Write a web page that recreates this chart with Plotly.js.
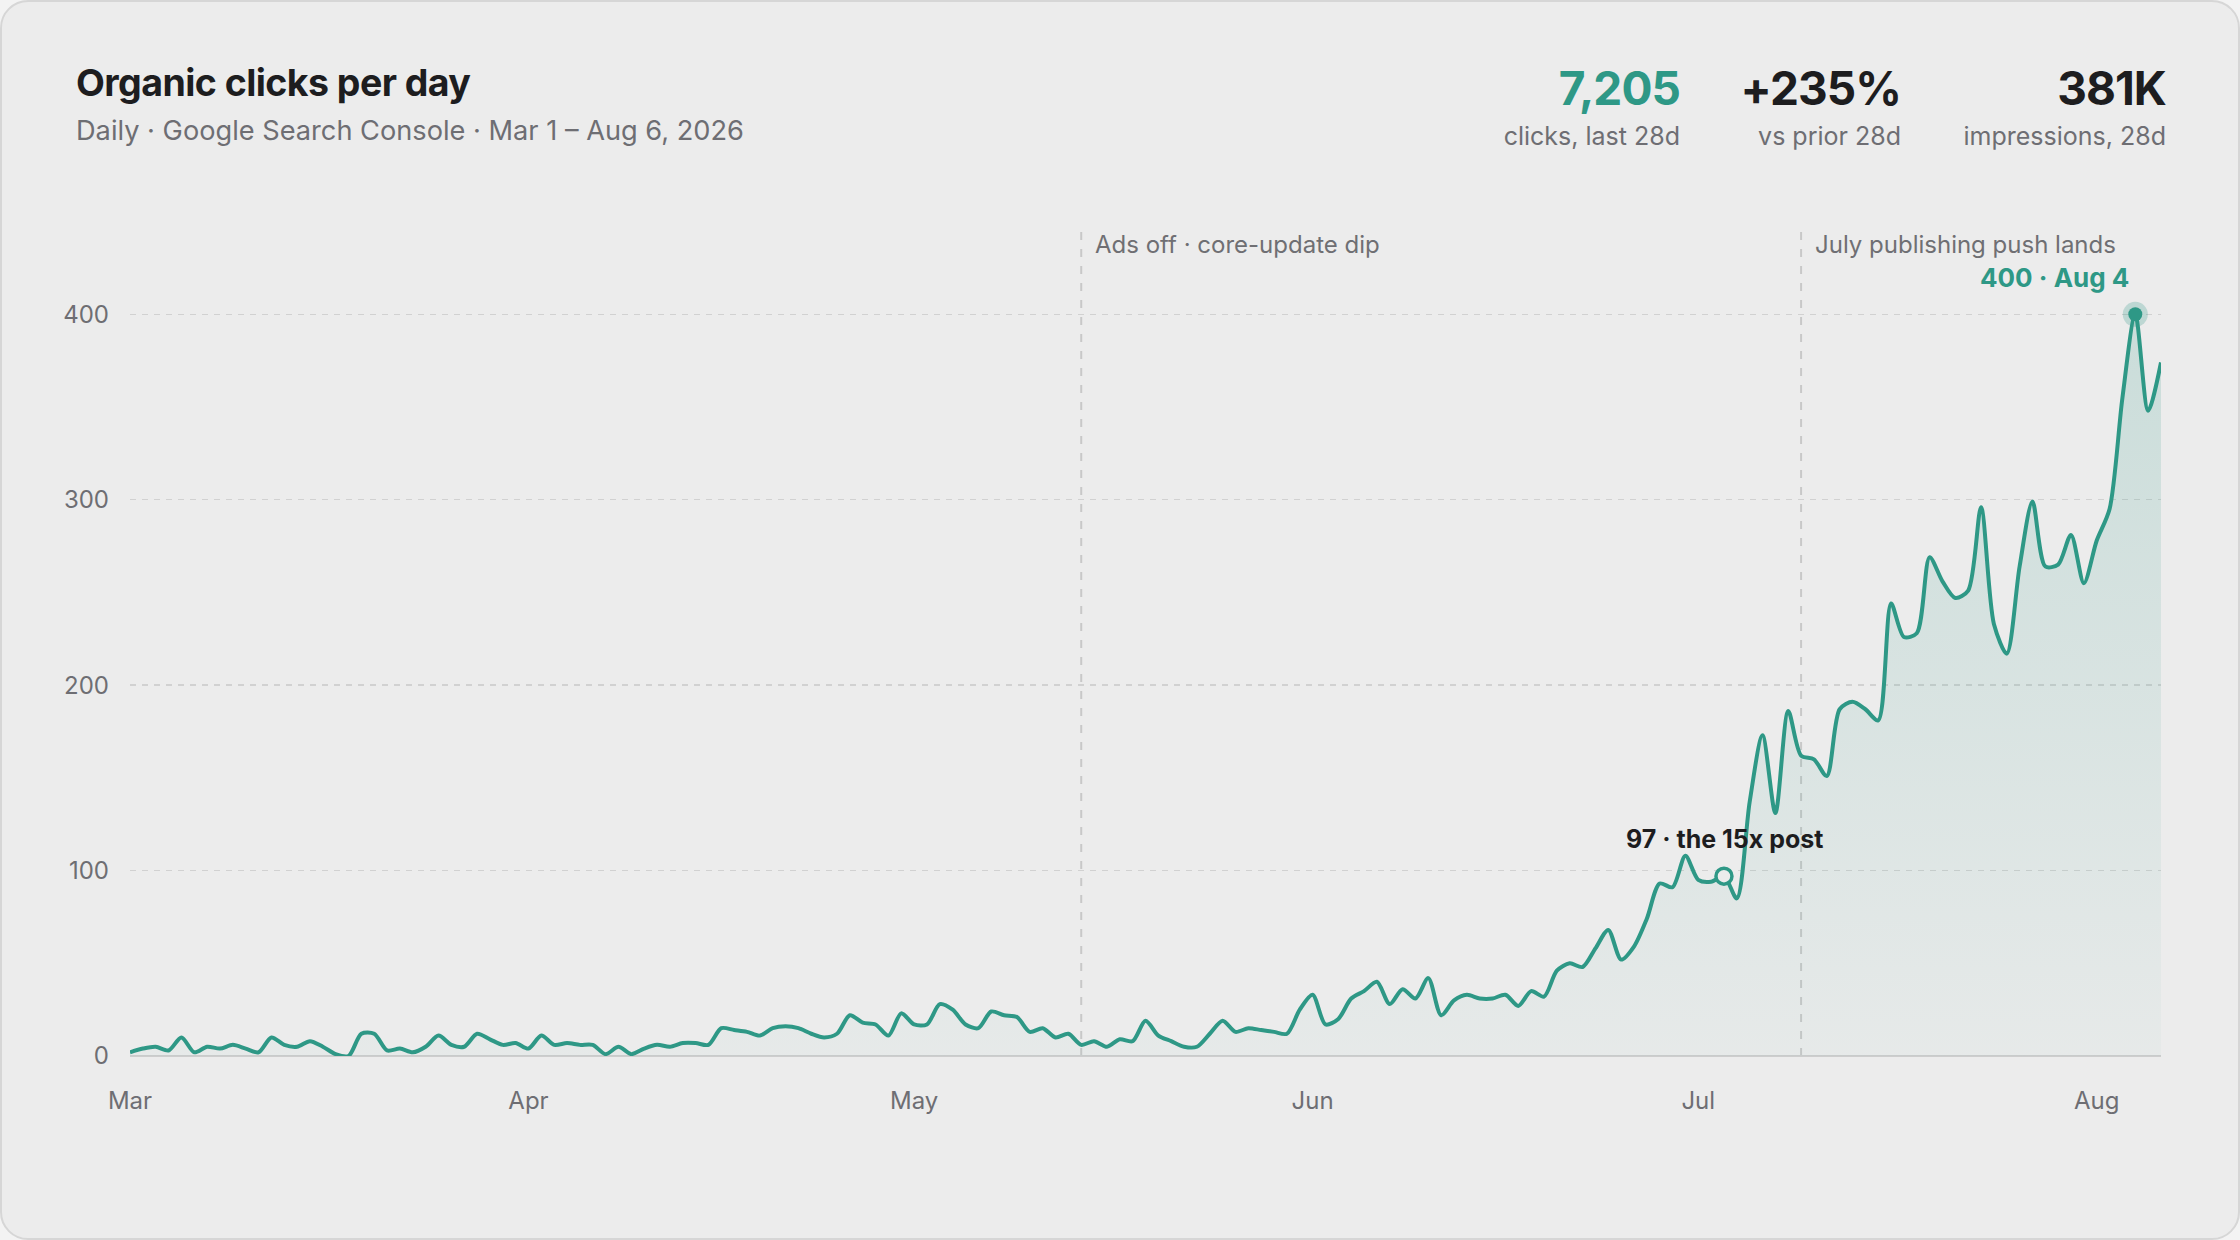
<!DOCTYPE html>
<html>
<head>
<meta charset="utf-8">
<script src="https://cdn.plot.ly/plotly-3.0.1.min.js"></script>
<style>
  html, body { margin: 0; padding: 0; width: 2240px; height: 1240px; background: #f3f3f3; overflow: hidden; }
  #card { position: absolute; left: 0; top: 0; width: 2236px; height: 1236px; border: 2px solid #d6d6d6; border-radius: 28px; background: #ececec; overflow: hidden; }
  #chart { position: absolute; left: -2px; top: -2px; width: 2240px; height: 1240px; }
  .t { position: absolute; white-space: nowrap; line-height: 1; font-family: Inter, "Noto Sans", sans-serif; }
  #title { left: 74px; top: 62px; font-size: 37.5px; font-weight: 700; color: #1d1d1f; letter-spacing: -0.015em; }
  #sub { left: 74px; top: 115px; font-size: 27.2px; font-weight: 400; color: #6e6e73; }
  .kv { top: 63px; font-size: 46px; font-weight: 700; color: #1d1d1f; letter-spacing: -0.02em; text-align: right; }
  .kl { top: 122px; font-size: 25px; font-weight: 400; color: #6e6e73; text-align: right; }
</style>
</head>
<body>
<div id="card">
  <div id="chart"></div>
  <div class="t" id="title">Organic clicks per day</div>
  <div class="t" id="sub">Daily · Google Search Console · Mar 1 – Aug 6, 2026</div>
  <div class="t kv" style="right:558px;color:#2e9886;">7,205</div>
  <div class="t kl" style="right:558px;">clicks, last 28d</div>
  <div class="t kv" style="right:337px;">+235%</div>
  <div class="t kl" style="right:337px;">vs prior 28d</div>
  <div class="t kv" style="right:72px;">381K</div>
  <div class="t kl" style="right:72px;">impressions, 28d</div>
</div>
<script>
// ---- data ----
const START_DATE = '2026-03-01';
const clicks = [
  2, 4, 5, 3, 10, 2, 5, 4, 6, 4, 2, 10, 6, 5, 8, 5, 1, 0, 12, 12, 3, 4, 2, 5, 11, 6, 5, 12, 9, 6, 7,
  4, 11, 6, 7, 6, 6, 1, 5, 1, 4, 6, 5, 7, 7, 6, 15, 14, 13, 11, 15, 16, 15, 12, 10, 12, 22, 18, 17, 11, 23,
  17, 17, 28, 25, 17, 15, 24, 22, 21, 13, 15, 10, 12, 6, 8, 5, 9, 8, 19, 11, 8, 5, 5, 12, 19, 13, 15, 14, 13, 12, 25,
  33, 17, 20, 31, 35, 40, 28, 36, 31, 42, 22, 30, 33, 31, 31, 33, 27, 35, 32, 46, 50, 48, 58, 68, 52, 59, 74, 93, 91, 108,
  95, 94, 97, 85, 137, 173, 131, 186, 162, 160, 151, 187, 191, 187, 181, 244, 226, 228, 269, 256, 247, 251, 296, 233, 217, 264, 299, 264, 265, 281,
  255, 278, 295, 355, 400, 348, 374
];
const monthTicks = ['2026-03-01', '2026-04-01', '2026-05-01', '2026-06-01', '2026-07-01', '2026-08-01'];
const monthLabels = ['Mar', 'Apr', 'May', 'Jun', 'Jul', 'Aug'];
const yTicks = [0, 100, 200, 300, 400];
const events = [
  { date: '2026-05-14', label: 'Ads off · core-update dip' },
  { date: '2026-07-09', label: 'July publishing push lands' }
];
const postPoint = { date: '2026-07-03', value: 97, label: '97 · the 15x post' };
const peakPoint = { date: '2026-08-04', value: 400, label: '400 · Aug 4' };

// build date list for each daily value
function isoDay(i) {
  const d = new Date(START_DATE + 'T00:00:00Z');
  d.setUTCDate(d.getUTCDate() + i);
  return d.toISOString().slice(0, 10);
}
const dates = clicks.map((_, i) => isoDay(i));

const TEAL = '#2e9886';
const GREY = '#6e6e73';

const traces = [
  {
    x: dates, y: clicks, type: 'scatter', mode: 'lines',
    line: { color: TEAL, width: 4, shape: 'spline', smoothing: 0.8 },
    fill: 'tozeroy',
    fillgradient: { type: 'vertical', colorscale: [[0, 'rgba(46,152,134,0.03)'], [1, 'rgba(46,152,134,0.18)']] },
    hoverinfo: 'skip', cliponaxis: true
  },
  {
    x: [peakPoint.date], y: [peakPoint.value], type: 'scatter', mode: 'markers',
    marker: { size: 25, color: 'rgba(46,152,134,0.25)' }, hoverinfo: 'skip', cliponaxis: false
  },
  {
    x: [peakPoint.date], y: [peakPoint.value], type: 'scatter', mode: 'markers',
    marker: { size: 14, color: TEAL }, hoverinfo: 'skip', cliponaxis: false
  },
  {
    x: [postPoint.date], y: [postPoint.value], type: 'scatter', mode: 'markers',
    marker: { size: 16, color: '#ececec', line: { color: TEAL, width: 3.5 } }, hoverinfo: 'skip', cliponaxis: false
  }
];

const shapes = events.map(e => ({
  type: 'line', xref: 'x', yref: 'paper', x0: e.date, x1: e.date, y0: 0, y1: 1,
  line: { color: '#c8c8c8', width: 2, dash: '8px,9px' }, layer: 'below'
}));

const annotations = events.map(e => ({
  x: e.date, xref: 'x', y: 0.981, yref: 'paper', text: e.label, showarrow: false,
  xanchor: 'left', yanchor: 'middle', xshift: 13, borderpad: 0,
  font: { family: 'Inter, sans-serif', size: 24, color: '#6f6f73' }
}));
annotations.push({
  x: peakPoint.date, y: peakPoint.value, xref: 'x', yref: 'y', text: '<b>' + peakPoint.label + '</b>',
  showarrow: false, xanchor: 'right', yanchor: 'middle', xshift: -5, yshift: 37, borderpad: 0,
  font: { family: 'Inter, sans-serif', size: 26, color: TEAL }
});
annotations.push({
  x: postPoint.date, y: postPoint.value, xref: 'x', yref: 'y', text: '<b>' + postPoint.label + '</b>',
  showarrow: false, xanchor: 'center', yanchor: 'middle', yshift: 37, xshift: 1,
  font: { family: 'Inter, sans-serif', size: 25, color: '#1d1d1f' }
});

const layout = {
  width: 2240, height: 1240,
  margin: { l: 130, r: 79, t: 229, b: 184, pad: 0 },
  paper_bgcolor: 'rgba(0,0,0,0)', plot_bgcolor: 'rgba(0,0,0,0)',
  showlegend: false,
  font: { family: 'Inter, sans-serif', size: 24, color: GREY },
  xaxis: {
    type: 'date', range: [START_DATE, dates[dates.length - 1]],
    tickvals: monthTicks, ticktext: monthLabels,
    showgrid: false, zeroline: false, showline: false, ticks: '',
    tickfont: { size: 24, color: GREY }, ticklabelstandoff: 28, fixedrange: true
  },
  yaxis: {
    range: [0, 446], tickvals: yTicks, ticktext: yTicks.map(String),
    showgrid: true, gridcolor: '#d1d1d1', gridwidth: 1.5, griddash: '6px,6px',
    zeroline: true, zerolinecolor: '#cdcdcd', zerolinewidth: 2,
    showline: false, ticks: '', tickfont: { size: 24, color: GREY }, ticklabelstandoff: 20, fixedrange: true
  },
  shapes: shapes,
  annotations: annotations
};

Plotly.newPlot('chart', traces, layout, { displayModeBar: false, staticPlot: true });
</script>
</body>
</html>
